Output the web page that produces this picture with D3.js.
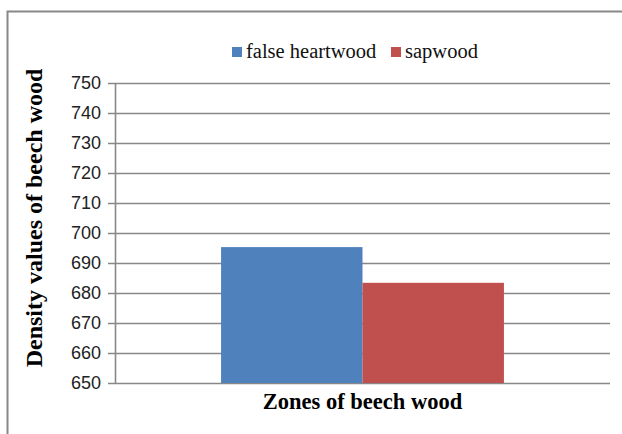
<!DOCTYPE html>
<html>
<head>
<meta charset="utf-8">
<script src="https://cdn.jsdelivr.net/npm/d3@7"></script>
<style>
  body { margin: 0; background: #fff; }
  .tick text { font-family: "Liberation Sans", Arial, sans-serif; }
</style>
</head>
<body>
<script>
let svgWidth = 622;
let svgHeight = 434;

let margins = { top: 83, right: 12, bottom: 51, left: 115 };
let chartWidth = svgWidth - margins.left - margins.right;
let chartHeight = svgHeight - margins.top - margins.bottom;

// data
let categories = ["Zones of beech wood"];
let seriesNames = ["false heartwood", "sapwood"];
let seriesValues = [695.3, 683.4];
let seriesColors = ["#4f81bd", "#c0504d"];
let yTicks = [650, 660, 670, 680, 690, 700, 710, 720, 730, 740, 750];

let svg = d3.select('body')
  .append('svg')
  .attr('width', svgWidth)
  .attr('height', svgHeight);

// outer frame
svg.append('path')
  .attr('d', `M7.5,${svgHeight} V11.5 H${svgWidth}`)
  .attr('fill', 'none')
  .attr('stroke', '#888')
  .attr('stroke-width', 2);

let chart = svg.append('g')
  .attr('transform', `translate(${margins.left}, ${margins.top})`);

let x0 = d3.scaleBand()
  .domain(categories)
  .range([0, chartWidth])
  .padding(0);

// Excel style gap width 75%
let x1 = d3.scaleBand()
  .domain(seriesNames)
  .range([0, x0.bandwidth()])
  .paddingOuter(0.75)
  .paddingInner(0);

let yScale = d3.scaleLinear()
  .domain([650, 750])
  .range([chartHeight, 0]);

// gridlines
chart.append('g')
  .selectAll('line')
  .data(yTicks)
  .enter()
  .append('line')
  .attr('x1', -7)
  .attr('x2', chartWidth)
  .attr('y1', d => Math.round(yScale(d)) + 0.5)
  .attr('y2', d => Math.round(yScale(d)) + 0.5)
  .attr('stroke', '#888')
  .attr('stroke-width', 1.6);

// y axis
let leftAxis = d3.axisLeft(yScale)
  .tickValues(yTicks)
  .tickSize(0)
  .tickPadding(14);

let yAxis = chart.append('g').call(leftAxis);
yAxis.select('.domain').remove();
yAxis.selectAll('text')
  .attr('font-size', '18px')
  .attr('fill', '#222');

chart.append('line')
  .attr('x1', 0.5).attr('x2', 0.5)
  .attr('y1', 0).attr('y2', chartHeight)
  .attr('stroke', '#888')
  .attr('stroke-width', 1.6);

// bars
let bars = chart.selectAll('.bar')
  .data(seriesNames)
  .enter()
  .append('rect')
  .classed('bar', true)
  .attr('x', d => x0(categories[0]) + x1(d))
  .attr('width', x1.bandwidth())
  .attr('y', (d, i) => yScale(seriesValues[i]))
  .attr('height', (d, i) => chartHeight - yScale(seriesValues[i]))
  .attr('fill', (d, i) => seriesColors[i]);

// x axis title
chart.append('text')
  .attr('x', chartWidth / 2)
  .attr('y', chartHeight + 26)
  .attr('text-anchor', 'middle')
  .attr('font-family', '"Liberation Serif", "Times New Roman", serif')
  .attr('font-weight', 'bold')
  .attr('font-size', '22.5px')
  .text(categories[0]);

// y axis title
svg.append('text')
  .attr('transform', 'translate(42, 218) rotate(-90)')
  .attr('text-anchor', 'middle')
  .attr('font-family', '"Liberation Serif", "Times New Roman", serif')
  .attr('font-weight', 'bold')
  .attr('font-size', '24px')
  .text('Density values of beech wood');

// legend
let legend = svg.append('g');
let legendX = [232, 391];
seriesNames.forEach(function (name, i) {
  legend.append('rect')
    .attr('x', legendX[i])
    .attr('y', 47)
    .attr('width', 10)
    .attr('height', 10)
    .attr('fill', seriesColors[i]);
  legend.append('text')
    .attr('x', legendX[i] + 14)
    .attr('y', 58)
    .attr('font-family', '"Liberation Serif", "Times New Roman", serif')
    .attr('font-size', '20.5px')
    .attr('fill', '#111')
    .text(name);
});
</script>
</body>
</html>
